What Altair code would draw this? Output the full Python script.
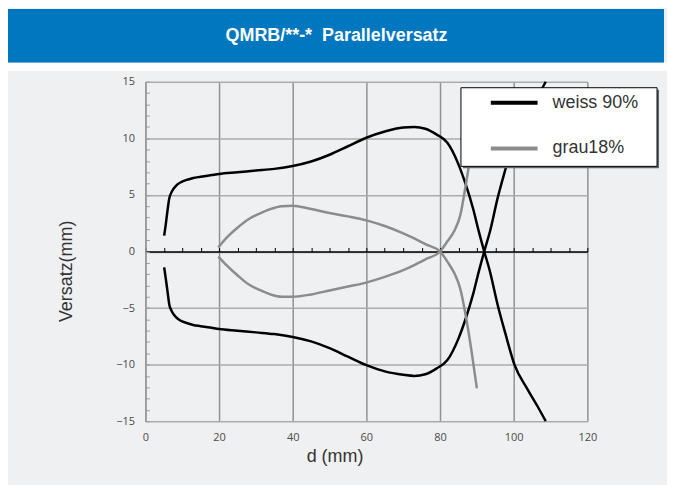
import altair as alt
import pandas as pd

TITLE = "QMRB/**-*\u00a0 Parallelversatz"
X_TITLE = "d (mm)"
Y_TITLE = "Versatz(mm)"
SERIES = ["weiss 90%", "grau18%"]
COLORS = ["#000000", "#8c8c8c"]

X_TICKS = [0, 20, 40, 60, 80, 100, 120]
Y_TICKS = [-15, -10, -5, 0, 5, 10, 15]
X_MINOR = [0, 5, 10, 15, 20, 25, 30, 35, 40, 45, 50, 55, 60, 65, 70, 75, 80, 85, 90, 95, 100, 105, 110, 115, 120]
Y_MINOR = [-15, -14, -13, -12, -11, -10, -9, -8, -7, -6, -5, -4, -3, -2, -1, 0,
           1, 2, 3, 4, 5, 6, 7, 8, 9, 10, 11, 12, 13, 14, 15]

# weiss 90% (black) - upper branch
w_up_x = [5.1, 5.5, 6.0, 6.5, 7.2, 8.3, 9.5, 11, 13, 15, 18, 20, 25, 30, 35, 40, 45, 50, 55, 60,
          65, 70, 73, 76, 79, 82, 85, 87, 89, 90.5, 92, 93.5, 95.7, 97.7, 100.2, 103.8, 106.5, 108.7]
w_up_y = [1.4, 2.3, 3.6, 4.7, 5.3, 5.8, 6.1, 6.3, 6.5, 6.6, 6.75, 6.85, 7.0, 7.15, 7.3, 7.55, 7.95, 8.55, 9.3, 10.05,
          10.6, 10.95, 11.0, 10.85, 10.35, 9.6, 7.7, 5.9, 3.75, 1.8, 0.0, -1.7, -4.8, -7.2, -10.0, -12.2, -13.7, -15.0]
# weiss 90% (black) - lower branch
w_lo_x = [5.1, 5.5, 6.0, 6.5, 7.2, 8.3, 9.5, 11, 13, 15, 18, 20, 25, 30, 35, 40, 45, 50, 55, 60,
          65, 70, 73, 76, 79, 82, 85, 87, 89, 90.5, 92, 93.5, 95.7, 97.7, 100.2, 103.8, 106.5, 108.7]
w_lo_y = [-1.4, -2.3, -3.5, -4.7, -5.3, -5.8, -6.1, -6.3, -6.5, -6.6, -6.75, -6.85, -7.0, -7.15, -7.3, -7.55, -7.95, -8.55, -9.3, -10.05,
          -10.6, -10.9, -11.0, -10.85, -10.35, -9.6, -7.7, -5.9, -3.75, -1.8, 0.0, 1.7, 4.8, 7.2, 10.0, 12.2, 13.7, 15.0]

# grau18% (gray) - upper branch
g_up_x = [19.8, 22, 25, 28, 31, 34, 37, 40, 45, 50, 55, 60, 65, 70, 73, 76, 80, 82, 84, 85.5, 87, 88.5, 90]
g_up_y = [0.35, 1.2, 2.1, 2.85, 3.35, 3.75, 4.0, 4.05, 3.75, 3.4, 3.1, 2.75, 2.25, 1.6, 1.15, 0.65, 0.0, -0.9, -2.0, -3.3, -5.7, -8.7, -12.1]
# grau18% (gray) - lower branch
g_lo_x = [19.8, 22, 25, 28, 31, 34, 37, 40, 45, 50, 55, 60, 65, 70, 73, 76, 80, 82, 84, 85.5, 87, 88.5, 90]
g_lo_y = [-0.45, -1.2, -2.1, -2.9, -3.4, -3.8, -4.0, -4.0, -3.8, -3.45, -3.1, -2.75, -2.25, -1.65, -1.2, -0.7, 0.0, 0.9, 1.9, 3.2, 5.9, 8.9, 12.1]

rows = []
for series, branch, xs, ys in [
    (SERIES[0], "up", w_up_x, w_up_y),
    (SERIES[0], "lo", w_lo_x, w_lo_y),
    (SERIES[1], "up", g_up_x, g_up_y),
    (SERIES[1], "lo", g_lo_x, g_lo_y),
]:
    for xv, yv in zip(xs, ys):
        rows.append({"series": series, "branch": series + branch, "d": xv, "v": yv})
df = pd.DataFrame(rows)

W, H = 444, 341
FONT = "Liberation Sans"
TICKFONT = "Open Sans"
PANEL = "#eff0f2"

x_scale = alt.Scale(domain=[0, 120], nice=False, zero=False)
y_scale = alt.Scale(domain=[-15, 15], nice=False, zero=False)

one = pd.DataFrame({"k": [0]})

# page decoration: blue header bar, white strip below it, corner marker for panel extent
header = alt.Chart(one).mark_rect(color="#0077bf").encode(
    x=alt.value(-138), x2=alt.value(521), y=alt.value(-73), y2=alt.value(-19))
strip = alt.Chart(one).mark_rect(color="white").encode(
    x=alt.value(-138), x2=alt.value(524), y=alt.value(-19), y2=alt.value(-11))
corner = alt.Chart(one).mark_rect(color=PANEL).encode(
    x=alt.value(523), x2=alt.value(524), y=alt.value(403), y2=alt.value(404))
title_text = alt.Chart(one).mark_text(
    text=TITLE, color="white", font=FONT, fontSize=18, fontWeight="bold",
    align="center", baseline="middle").encode(x=alt.value(192), y=alt.value(-46))

lines = alt.Chart(df).mark_line(strokeWidth=2.5, interpolate="monotone").encode(
    x=alt.X("d:Q", scale=x_scale, axis=alt.Axis(
        orient="bottom", values=X_TICKS, grid=True, gridColor="#919191", gridWidth=1.5,
        domain=False, ticks=False, labelPadding=10, labelFont=TICKFONT, labelFontSize=11,
        labelColor="#4a4a4a", labelFlush=False, labelOverlap=False,
        title=X_TITLE, titleFont=FONT, titleFontSize=18,
        titleFontWeight="normal", titleColor="#333333", titleX=190, titleY=35,
        titleBaseline="middle", titleAlign="center")),
    y=alt.Y("v:Q", scale=y_scale, axis=alt.Axis(
        orient="left", values=Y_TICKS, grid=True, gridColor="#ababab", gridWidth=1.5,
        domain=False, ticks=False, labelPadding=11, labelFont=TICKFONT, labelFontSize=11,
        labelColor="#4a4a4a", labelFlush=False, labelOverlap=False,
        title=Y_TITLE, titleFont=FONT, titleFontSize=18,
        titleFontWeight="normal", titleColor="#333333", titleX=-79, titleY=190,
        titleBaseline="middle", titleAlign="center", titleAngle=-90)),
    color=alt.Color("series:N", scale=alt.Scale(domain=SERIES, range=COLORS),
                    legend=alt.Legend(
                        title=None, orient="none", legendX=340, legendY=11, padding=0,
                        symbolType="stroke", symbolSize=2209, symbolStrokeWidth=4,
                        symbolOffset=5, labelOffset=13, clipHeight=20, rowPadding=26,
                        labelFont=FONT, labelFontSize=18, labelColor="#333333",
                        labelBaseline="middle", zindex=3)),
    detail="branch:N",
)

axes_extra = alt.Chart(df).mark_point(opacity=0).encode(
    x=alt.X("d:Q", scale=x_scale, axis=alt.Axis(
        orient="top", offset=-170.5, values=X_MINOR, labels=False, grid=False,
        domain=True, domainColor="#000000", domainWidth=1.5, ticks=True,
        tickColor="#000000", tickSize=4, tickWidth=1, title=None)),
    y=alt.Y("v:Q", scale=y_scale, axis=alt.Axis(
        orient="right", offset=-W, values=Y_MINOR, labels=False, grid=False,
        domain=True, domainColor="#9a9a9a", domainWidth=1.5, ticks=True,
        tickColor="#9a9a9a", tickSize=4, tickWidth=1, title=None)),
)

box_shadow = alt.Chart(one).mark_rect(color="#666666").encode(
    x=alt.value(319), x2=alt.value(516), y=alt.value(8), y2=alt.value(87))
box = alt.Chart(one).mark_rect(fill="white", stroke="#000000", strokeWidth=1).encode(
    x=alt.value(317), x2=alt.value(514), y=alt.value(6), y2=alt.value(85))

chart = alt.layer(
    header, strip, corner, title_text, axes_extra, lines, box_shadow, box
).properties(width=W, height=H, padding=0, background=PANEL).configure_view(
    stroke=None
)

chart.save("out.html", embed_options={"renderer": "svg", "actions": False})
